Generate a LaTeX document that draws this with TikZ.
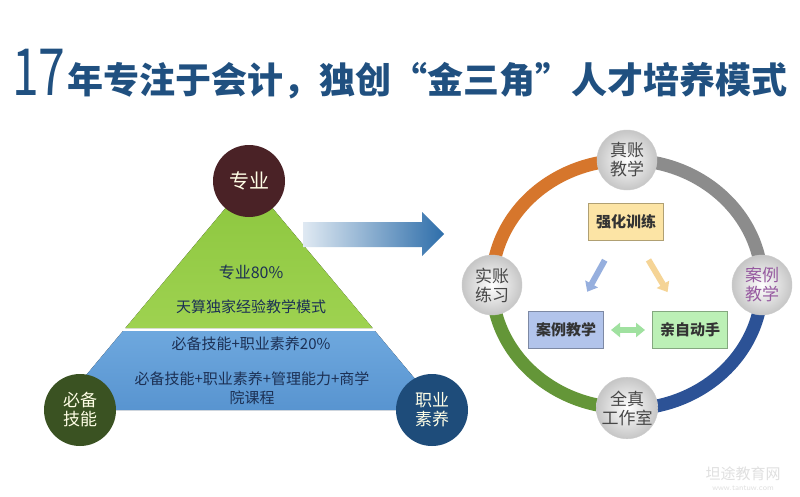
\documentclass[tikz,border=0pt]{standalone}
\usepackage{fontspec}
\usepackage{xcolor}
\usepackage{tikz}
\usetikzlibrary{arrows.meta}
\newfontfamily\cjk{Noto Sans CJK SC}
\definecolor{titleblue}{RGB}{32, 80, 128}
\definecolor{textnavy}{RGB}{28, 48, 84}
\definecolor{leafgreen}{RGB}{140, 198, 62}
\definecolor{leafgreenlight}{RGB}{158, 210, 80}
\definecolor{skyblue}{RGB}{110, 168, 222}
\definecolor{skybluedark}{RGB}{88, 148, 208}
\definecolor{darkmaroon}{RGB}{74, 34, 38}
\definecolor{darkolive}{RGB}{58, 82, 34}
\definecolor{deepblue}{RGB}{30, 76, 122}
\definecolor{arrowblue}{RGB}{46, 110, 170}
\definecolor{rimorange}{RGB}{214, 118, 44}
\definecolor{rimgray}{RGB}{140, 140, 140}
\definecolor{rimblue}{RGB}{44, 82, 150}
\definecolor{rimgreen}{RGB}{100, 150, 56}
\definecolor{casepurple}{RGB}{150, 90, 160}
\definecolor{cardyellow}{RGB}{252, 228, 165}
\definecolor{cardblue}{RGB}{178, 196, 235}
\definecolor{cardgreen}{RGB}{188, 240, 182}
\definecolor{linkblue}{RGB}{150, 175, 222}
\definecolor{linkorange}{RGB}{245, 212, 150}
\definecolor{linkgreen}{RGB}{160, 225, 160}

\begin{document}
\begin{tikzpicture}[x=1pt, y=-1pt,
        corner/.style = {circle, fill=#1, text=white!90!yellow, minimum size=72pt, inner sep=0pt, align=center, font=\cjk\fontsize{17}{19}\selectfont},
        ball/.style = {circle, shading=radial, inner color=white, outer color=gray!45, draw=gray!40, minimum size=60pt, inner sep=0pt, align=center, text=black!72, font=\cjk\fontsize{17}{19}\selectfont},
        card/.style = {rectangle, fill=#1, draw=#1!70!black, line width=1pt, minimum width=75pt, minimum height=37pt, inner sep=0pt, text=black!80, font=\cjk\bfseries\fontsize{15}{15}\selectfont},
        body/.style = {text=textnavy, inner sep=0pt, align=center, font=\cjk\fontsize{15}{19}\selectfont},
        rim/.style = {line width=13pt},
        link/.style = {line width=6pt, shorten <=22pt, shorten >=22pt, arrows={-Triangle[width=14pt,length=9pt]}}]
        \useasboundingbox[fill=white] (0,0) rectangle (800,496);

        \node[anchor=base west, inner sep=0pt, text=titleblue, font=\cjk\fontsize{65}{65}\selectfont, xscale=0.74] (yr) at (12,95) {17};
        \node[anchor=base west, inner sep=0pt, text=titleblue, font=\cjk\bfseries\fontsize{36}{36}\selectfont] (head) at (67,93) {年专注于会计，独创“金三角”人才培养模式};

        \fill[top color=leafgreen, bottom color=leafgreenlight] (249,180) -- (372.6,328) -- (125.4,328) -- cycle;
        \fill[top color=skyblue, bottom color=skybluedark] (123,331) -- (375,331) -- (441,410) -- (57,410) -- cycle;
        \shade[left color=white!85!arrowblue, right color=arrowblue] (303,222) -- (422,222) -- (422,212) -- (444,234) -- (422,256) -- (422,247) -- (303,247) -- cycle;

        \node[corner=darkmaroon, font=\cjk\fontsize{20}{20}\selectfont] (zy) at (249,181) {专业};
        \node[corner=darkolive] (bb) at (80,410) {必备\\技能};
        \node[corner=deepblue] (zs) at (432,410) {职业\\素养};

        \node[body, font=\cjk\fontsize{16}{19}\selectfont] (p80) at (251,272) {专业80\%};
        \node[body] (ms) at (251,307) {天算独家经验教学模式};
        \node[body] (p20) at (251,344) {必备技能+职业素养20\%};
        \node[body] (kc) at (252,388) {必备技能+职业素养+管理能力+商学\\院课程};

        \coordinate (zzc) at (627,160);
        \coordinate (szc) at (492,285);
        \coordinate (alc) at (762,285);
        \coordinate (qzc) at (627,408);
        \foreach \p/\a/\b/\col in {zzc/270/180/rimorange, zzc/270/360/rimgray, alc/0/90/rimblue, qzc/90/180/rimgreen}
            \draw[rim, draw=\col] (\p) arc[start angle=\a, end angle=\b, x radius=135, y radius=124];

        \node[ball] (zz) at (zzc) {真账\\教学};
        \node[ball] (sz) at (szc) {实账\\练习};
        \node[ball, text=casepurple] (al) at (alc) {案例\\教学};
        \node[ball] (qz) at (qzc) {全真\\工作室};

        \node[card=cardyellow] (qh) at (626,222) {强化训练};
        \node[card=cardblue] (aj) at (566,330) {案例教学};
        \node[card=cardgreen] (zd) at (690,330) {亲自动手};
        \draw[link, draw=linkblue] (qh) -- (aj);
        \draw[link, draw=linkorange] (qh) -- (zd);
        \draw[link, draw=linkgreen, shorten <=7pt, shorten >=7pt, arrows={Triangle[width=14pt,length=9pt]-Triangle[width=14pt,length=9pt]}] (aj) -- (zd);

        \node[text=black!12, font=\cjk\fontsize{15}{15}\selectfont] (wm) at (743,474) {坦途教育网};
        \node[text=black!12, font=\sffamily\fontsize{8}{8}\selectfont] (url) at (743,488) {www.tantuw.com};
    \end{tikzpicture}
\end{document}
